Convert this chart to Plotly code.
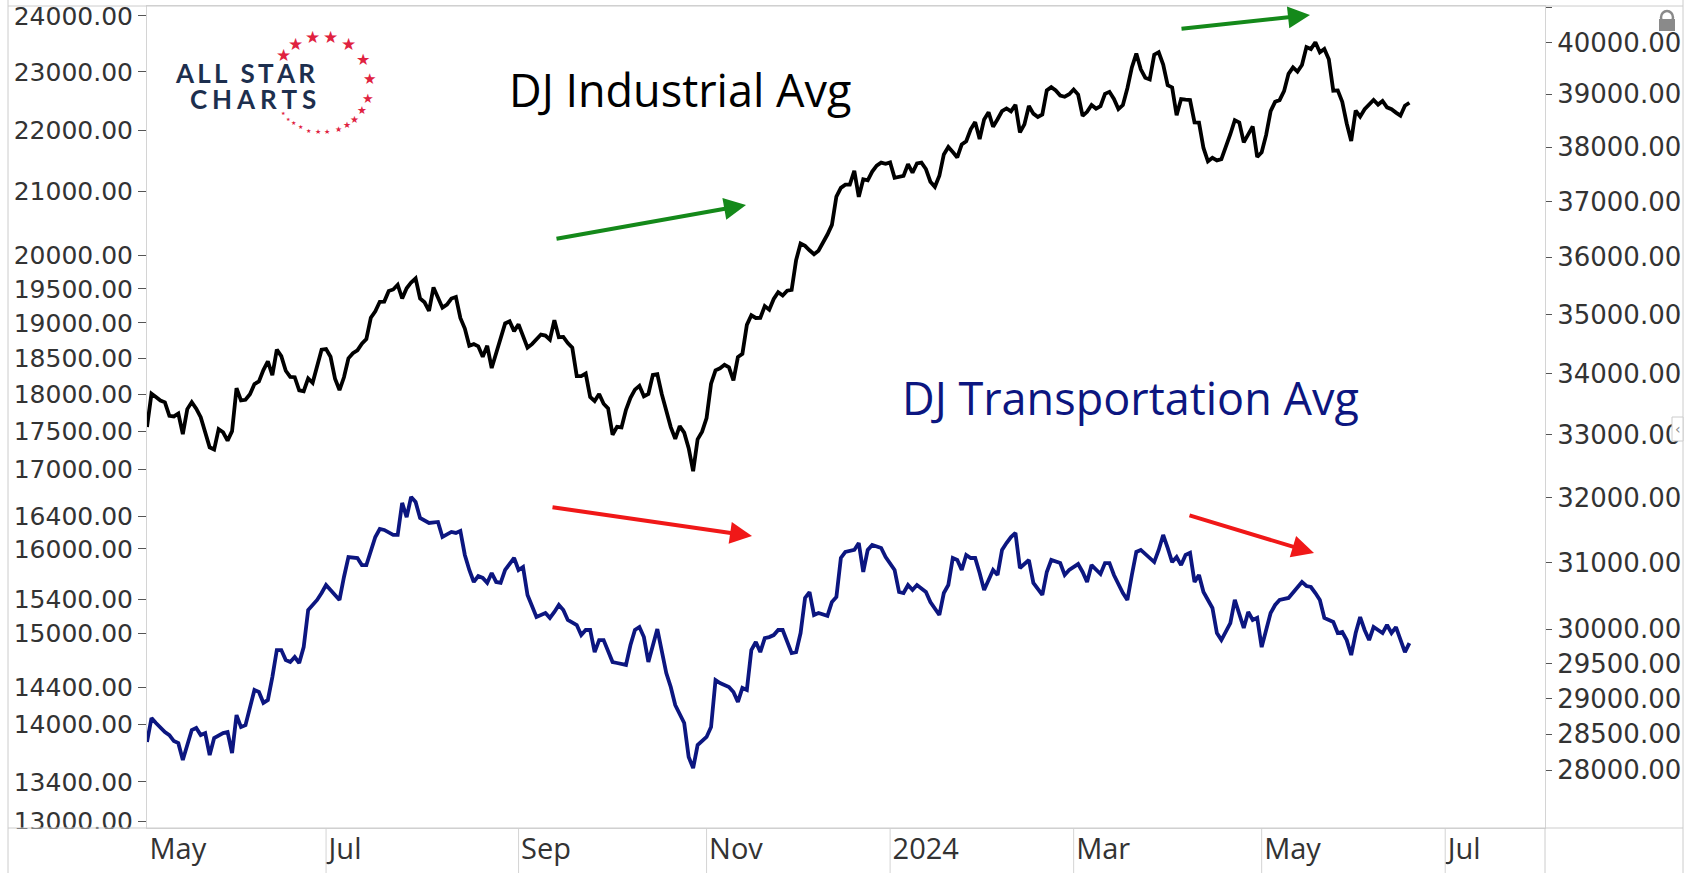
import math
import pandas as pd
import plotly.graph_objects as go

# ---------------- data ----------------
HOLIDAYS = ["2023-05-29", "2023-06-19", "2023-07-04", "2023-09-04", "2023-11-23",
            "2023-12-25", "2024-01-01", "2024-01-15", "2024-02-19", "2024-03-29",
            "2024-05-27", "2024-06-19", "2024-07-04"]

# trading days, 2023-05-04 .. 2024-06-18
trading_days = pd.bdate_range("2023-05-04", "2024-06-18", freq="C", holidays=HOLIDAYS)

DJIA = [
    # May 2023
    33128, 33674, 33618, 33561, 33531, 33309, 33300, 33348, 33012, 33420, 33535, 33427,
    33287, 33056, 32800, 32764, 33093, 33043, 32908,
    # Jun 2023
    33061, 33763, 33563, 33573, 33665, 33833, 33877, 34066, 34212, 33979, 34408, 34299,
    34054, 33952, 33946, 33727, 33714, 33927, 33853, 34122, 34408,
    # Jul 2023
    34418, 34288, 33922, 33734, 33945, 34262, 34347, 34395, 34509, 34586, 34952, 35061,
    35225, 35228, 35411, 35438, 35520, 35282, 35459, 35560,
    # Aug 2023
    35630, 35282, 35216, 35066, 35473, 35314, 35123, 35176, 35281, 35308, 34946, 34766,
    34475, 34501, 34464, 34289, 34473, 34099, 34347, 34560, 34853, 34891, 34722,
    # Sep 2023
    34838, 34642, 34443, 34501, 34577, 34664, 34646, 34576, 34907, 34618, 34624, 34518,
    34441, 33964, 33964, 34007, 33619, 33551, 33667, 33508,
    # Oct 2023
    33433, 33003, 33130, 33120, 33408, 33605, 33740, 33804, 33631, 33670, 33985, 33998,
    33665, 33415, 33127, 32937, 33141, 33036, 32785, 32418, 32929, 33053,
    # Nov 2023
    33275, 33839, 34061, 34096, 34153, 34112, 33892, 34283, 34338, 34828, 34992, 34946,
    34947, 35151, 35089, 35273, 35390, 35334, 35417, 35430, 35951,
    # Dec 2023
    36246, 36204, 36125, 36055, 36118, 36248, 36405, 36578, 37090, 37248, 37306, 37306,
    37558, 37083, 37405, 37386, 37545, 37657, 37711, 37690,
    # Jan 2024
    37715, 37431, 37440, 37466, 37683, 37525, 37696, 37711, 37593, 37361, 37267, 37469,
    37863, 38001, 37906, 37807, 38050, 38109, 38333, 38467, 38150,
    # Feb 2024
    38519, 38654, 38380, 38521, 38677, 38726, 38672, 38797, 38273, 38424, 38773, 38628,
    38564, 38612, 39069, 39131, 39070, 38972, 38949, 38996,
    # Mar 2024
    39087, 38990, 38585, 38661, 38791, 38723, 38770, 39005, 39043, 38906, 38715, 38790,
    39111, 39512, 39781, 39476, 39313, 39282, 39760, 39807,
    # Apr 2024
    39567, 39170, 39127, 38597, 38904, 38892, 38884, 38462, 38459, 37983, 37735, 37799,
    37753, 37775, 37986, 38240, 38504, 38461, 38086, 38240, 38386, 37816,
    # May 2024
    37903, 38226, 38676, 38852, 38884, 39056, 39388, 39513, 39432, 39558, 39908, 39869,
    40004, 39807, 39873, 39671, 39065, 39070, 38853, 38442, 38112, 38686,
    # Jun 2024
    38571, 38712, 38807, 38886, 38799, 38868, 38747, 38712, 38647, 38589, 38778, 38834,
]

N = None
DJT = [
    # May 2023
    13812, 14066, 14013, N, 13917, 13885, 13822, 13800, 13624, N, 13938, 13960,
    13885, 13906, 13676, 13854, N, 13906, 13917,
    # Jun 2023
    13697, 14098, 13970, 13990, N, 14370, 14348, 14230, 14261, 14512, 14813, 14813,
    14701, 14679, 14735, 14668, 14846, 15272, N, 15389, 15470,
    # Jul 2023
    15565, 15506, N, 15389, 15660, 15900, N, 15888, 15803, 15803, N, 16144,
    16243, 16231, N, 16169, 16169, 16568, 16390, 16644,
    # Aug 2023
    16580, 16379, 16354, 16317, N, 16330, 16144, N, 16206, 16194, 16218, 15925,
    15744, 15601, 15672, 15649, 15590, 15708, 15601, 15590, 15744, N, 15888,
    # Sep 2023
    15744, 15780, 15447, 15330, 15190, N, 15237, 15180, 15249, 15330, 15272, 15156,
    N, 15098, 14983, 15041, 15041, 14790, 14926, 14926,
    # Oct 2023
    14813, 14679, 14668, N, 14646, 14870, 15041, 15075, 14960, 14679, 14846, 15052,
    N, 14556, 14403, 14206, N, 14013, 13655, 13540, 13780, N,
    # Nov 2023
    13865, 13970, 14479, 14446, N, 14403, 14348, 14240, 14392, 14370, 14813, 14904,
    14790, 14949, 14960, 14983, 15041, 15041, N, 14779, 14790,
    # Dec 2023
    15006, 15412, 15482, 15214, 15237, N, 15203, 15365, 15424, 15888, 15962, N,
    15986, 16070, 15720, 15986, 16046, N, 16010, 15900,
    # Jan 2024
    N, 15744, 15482, 15470, 15565, 15506, 15565, N, 15482, 15365, N, 15214,
    15470, 15565, 15888, 15864, 15744, 15925, 15888, 15888, 15708,
    # Feb 2024
    15506, 15625, 15744, 15684, 15986, 16070, 16144, 16194, 15768, N, 15864, 15590,
    N, 15447, 15720, 15864, N, 15827, 15684, 15744,
    # Mar 2024
    N, 15815, 15720, 15601, 15803, N, 15696, 15827, 15827, 15684, N, 15470,
    15389, 15684, 15962, 15986, N, 15888, 15839, 15986,
    # Apr 2024
    16169, 16010, 15839, 15900, 15803, 15925, 15950, 15601, 15684, 15482, N, 15295,
    15006, 14926, N, 15121, 15389, N, 15064, 15249, 15156, 15180,
    # May 2024
    14846, 15041, 15237, 15330, 15389, N, 15412, 15470, 15541, 15601, 15553, 15541,
    15470, 15389, 15180, N, 15133, 15006, 15018, 14926, 14757, 15006,
    # Jun 2024
    15190, 15041, 14926, 15075, 15041, 15006, 15098, 15006, 15075, 14926, 14790, 14892,
]

assert len(DJIA) == len(trading_days) == len(DJT)

LEFT_TICKS = [13000, 13400, 14000, 14400, 15000, 15400, 16000, 16400, 17000, 17500,
              18000, 18500, 19000, 19500, 20000, 21000, 22000, 23000, 24000]
RIGHT_TICKS = [28000, 28500, 29000, 29500, 30000, 31000, 32000, 33000, 34000, 35000,
               36000, 37000, 38000, 39000, 40000, 40700]
LEFT_RANGE = [12937, 24183]
RIGHT_RANGE = [27217, 40720]

MONTH_TICKS = ["2023-05-04", "2023-07-03", "2023-09-01", "2023-11-01", "2024-01-02",
               "2024-03-01", "2024-05-01", "2024-07-01"]
MONTH_LABELS = ["May", "Jul", "Sep", "Nov", "2024", "Mar", "May", "Jul"]
X_RANGE = ["2023-05-04", "2024-08-01 07:00"]

# ---------------- layout helpers (pixel -> paper) ----------------
W, H = 1700, 873
PL, PR, PT, PB = 147, 1545, 6, 828


def px(x):
    return (x - PL) / (PR - PL)


def py(y):
    return (PB - y) / (PB - PT)


NAVY = "#0c1680"
GRID = "#d4d4d4"
TXT = "#333333"

fig = go.Figure()
fig.add_trace(go.Scatter(x=trading_days, y=DJT, mode="lines", connectgaps=True,
                         line=dict(color=NAVY, width=3.8), yaxis="y",
                         name="DJ Transportation Avg"))
fig.add_trace(go.Scatter(x=trading_days, y=DJIA, mode="lines",
                         line=dict(color="black", width=3.8), yaxis="y2",
                         name="DJ Industrial Avg"))

fig.update_layout(
    width=W, height=H,
    margin=dict(l=PL, r=W - PR, t=PT, b=H - PB, autoexpand=False),
    paper_bgcolor="white", plot_bgcolor="white",
    showlegend=False,
    xaxis=dict(
        type="date", range=X_RANGE, automargin=False,
        rangebreaks=[dict(bounds=["sat", "mon"]), dict(values=HOLIDAYS)],
        tickvals=MONTH_TICKS, ticktext=MONTH_LABELS,
        ticks="", ticklabelposition="outside right", ticklabelshift=2,
        ticklabelstandoff=-5,
        tickfont=dict(family="Open Sans", size=29, color=TXT),
        showgrid=False, zeroline=False,
        showline=True, linecolor=GRID, linewidth=1, mirror=True,
    ),
    yaxis=dict(
        type="log", range=[math.log10(v) for v in LEFT_RANGE], automargin=False,
        tickvals=LEFT_TICKS, tickformat=".2f",
        ticks="outside", ticklen=8, tickcolor="#555", tickwidth=1,
        tickfont=dict(family="DejaVu Sans", size=25, color=TXT),
        showgrid=False, zeroline=False,
        showline=True, linecolor=GRID, linewidth=1,
    ),
    yaxis2=dict(
        type="log", range=[math.log10(v) for v in RIGHT_RANGE], automargin=False,
        overlaying="y", side="right",
        tickvals=RIGHT_TICKS, tickformat=".2f",
        ticks="outside", ticklen=6, tickcolor="#555", tickwidth=1,
        tickfont=dict(family="DejaVu Sans", size=26, color=TXT),
        showgrid=False, zeroline=False,
        showline=True, linecolor=GRID, linewidth=1,
    ),
)

shapes = []
# month separators in the date strip
for d in MONTH_TICKS[1:]:
    shapes.append(dict(type="line", xref="x", yref="paper", x0=d, x1=d,
                       y0=0, y1=py(H), line=dict(color=GRID, width=1)))
# hide lower halves of labels that fall below the plot frame
shapes.append(dict(type="rect", xref="paper", yref="paper", x0=px(9), x1=px(PL - 1),
                   y0=py(H), y1=py(PB + 1), fillcolor="white", line=dict(width=0),
                   layer="above"))
# outer frame
frame = dict(color="#cccccc", width=1)
shapes += [
    dict(type="line", xref="paper", yref="paper", x0=px(8), x1=px(8), y0=py(H), y1=py(0),
         line=frame),
    dict(type="line", xref="paper", yref="paper", x0=px(1683), x1=px(1683), y0=py(H),
         y1=py(0), line=frame),
    dict(type="line", xref="paper", yref="paper", x0=px(8), x1=px(1683), y0=0, y1=0,
         line=frame, layer="above"),
    dict(type="line", xref="paper", yref="paper", x0=px(8), x1=px(1683), y0=1, y1=1,
         line=frame),
    dict(type="line", xref="paper", yref="paper", x0=1, x1=1, y0=py(H), y1=0,
         line=frame),
]
# lock icon and side tab
shapes += [
    dict(type="circle", xref="paper", yref="paper", x0=px(1661), x1=px(1673),
         y0=py(24), y1=py(11), line=dict(color="#8a8a8a", width=2.5)),
    dict(type="rect", xref="paper", yref="paper", x0=px(1659), x1=px(1675),
         y0=py(31), y1=py(19), fillcolor="#8a8a8a", line=dict(width=0)),
    dict(type="rect", xref="paper", yref="paper", x0=px(1672), x1=px(1683),
         y0=py(441), y1=py(417), fillcolor="white", line=dict(color="#cccccc", width=1)),
]
fig.update_layout(shapes=shapes)

ann = []
ann.append(dict(xref="paper", yref="paper", x=px(1677.5), y=py(429), text="‹",
                xanchor="center", yanchor="middle",
                showarrow=False, font=dict(family="DejaVu Sans", size=14, color="#888")))
ann.append(dict(xref="paper", yref="paper", x=px(680), y=py(90), text="DJ Industrial Avg",
                showarrow=False, xanchor="center", yanchor="middle",
                font=dict(family="Open Sans", size=45, color="black")))
ann.append(dict(xref="paper", yref="paper", x=px(1130), y=py(397),
                text="DJ Transportation Avg", showarrow=False,
                xanchor="center", yanchor="middle",
                font=dict(family="Open Sans", size=45, color=NAVY)))

# arrows: (tail x, tail y, head x, head y, colour) in pixels
ARROWS = [
    (555, 239, 746, 205, "#14891a"),
    (1180, 29, 1310, 15, "#14891a"),
    (551, 507, 752, 536, "#f01818"),
    (1188, 515, 1314, 553, "#f01818"),
]
for tx, ty, hx, hy, c in ARROWS:
    ann.append(dict(xref="paper", yref="paper", x=px(hx), y=py(hy), ax=tx - hx, ay=ty - hy,
                    text="", showarrow=True, arrowhead=2, arrowsize=1.1, arrowwidth=4,
                    arrowcolor=c))

# logo
LOGO_NAVY = "#1d2f4e"
ann.append(dict(xref="paper", yref="paper", x=px(245), y=py(73),
                xanchor="center", yanchor="middle",
                text="A\u2009L\u2009L\u2002S\u2009T\u2009A\u2009R", showarrow=False,
                font=dict(family="Lato", size=26, color=LOGO_NAVY, weight="bold")))
ann.append(dict(xref="paper", yref="paper", x=px(253), y=py(99),
                xanchor="center", yanchor="middle",
                text="C\u2009\u200aH\u2009\u200aA\u2009\u200aR\u2009\u200aT\u2009\u200aS",
                showarrow=False,
                font=dict(family="Lato", size=26, color=LOGO_NAVY, weight="bold")))
STAR_ANGLES = [143, 123, 101, 80, 57, 31, 6, -18, -33, -47, -58, -70, -84, -95, -106,
               -117, -126, -134, -143]
STAR_SIZES = [17, 17, 17, 17, 17, 16, 15, 13, 11, 10, 9, 8, 7, 7, 6, 6, 6, 5, 5]
cx, cy, r = 322, 84, 48
for a, s in zip(STAR_ANGLES, STAR_SIZES):
    sx = cx + r * math.cos(math.radians(a))
    sy = cy - r * math.sin(math.radians(a))
    ann.append(dict(xref="paper", yref="paper", x=px(sx), y=py(sy), text="★",
                    xanchor="center", yanchor="middle",
                    showarrow=False, font=dict(family="DejaVu Sans", size=s,
                                               color="#e0223f")))
fig.update_layout(annotations=ann)

fig.write_html("out.html", config={"displayModeBar": False},
               post_script="document.body.style.margin='0';"
                           "document.body.style.overflow='hidden';")
